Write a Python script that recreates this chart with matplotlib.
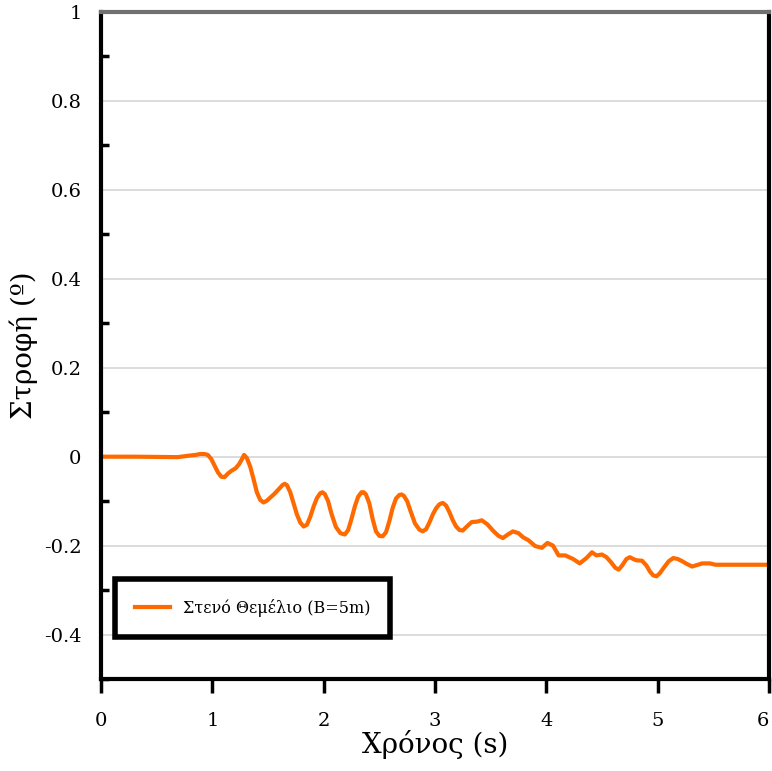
import matplotlib.pyplot as plt
from matplotlib.ticker import MultipleLocator

# time (s) and rotation (deg)
t = [0.0, 0.3, 0.69, 0.78, 0.85, 0.89, 0.93, 0.96, 0.99, 1.02, 1.05, 1.08, 1.11,
     1.14, 1.17, 1.19, 1.21, 1.24, 1.265, 1.285, 1.31, 1.34, 1.37, 1.40, 1.43,
     1.46, 1.49, 1.52, 1.56, 1.60, 1.63, 1.65, 1.67, 1.70, 1.73, 1.76, 1.79,
     1.82, 1.85, 1.88, 1.91, 1.94, 1.97, 1.99, 2.01, 2.04, 2.07, 2.11, 2.15,
     2.19, 2.22, 2.25, 2.28, 2.31, 2.34, 2.36, 2.38, 2.41, 2.44, 2.47, 2.50,
     2.53, 2.56, 2.59, 2.62, 2.65, 2.68, 2.70, 2.72, 2.75, 2.78, 2.82, 2.86,
     2.89, 2.92, 2.95, 2.98, 3.01, 3.04, 3.07, 3.10, 3.13, 3.16, 3.19, 3.22,
     3.25, 3.29, 3.33, 3.38, 3.42, 3.47, 3.52, 3.57, 3.61, 3.66, 3.70, 3.75,
     3.79, 3.84, 3.90, 3.96, 4.01, 4.06, 4.11, 4.17, 4.24, 4.30, 4.36, 4.41,
     4.45, 4.50, 4.54, 4.58, 4.62, 4.65, 4.68, 4.72, 4.75, 4.78, 4.81, 4.86,
     4.90, 4.93, 4.96, 4.99, 5.02, 5.06, 5.10, 5.14, 5.18, 5.22, 5.26, 5.31,
     5.35, 5.40, 5.47, 5.52, 5.70, 6.0]
rot = [0.0, 0.0, -0.001, 0.002, 0.004, 0.006, 0.006, 0.004, -0.005, -0.02, -0.035, -0.045, -0.046,
       -0.038, -0.032, -0.029, -0.026, -0.017, -0.006, 0.004, -0.003, -0.022, -0.050, -0.080, -0.097,
       -0.103, -0.099, -0.092, -0.083, -0.072, -0.064, -0.061, -0.064, -0.080, -0.105, -0.130, -0.148,
       -0.157, -0.153, -0.135, -0.112, -0.093, -0.082, -0.080, -0.084, -0.100, -0.128, -0.158, -0.172,
       -0.175, -0.165, -0.140, -0.112, -0.090, -0.080, -0.080, -0.085, -0.105, -0.140, -0.168, -0.178,
       -0.179, -0.170, -0.145, -0.115, -0.094, -0.086, -0.085, -0.088, -0.100, -0.122, -0.150, -0.164,
       -0.168, -0.163, -0.148, -0.130, -0.116, -0.107, -0.104, -0.110, -0.125, -0.143, -0.157, -0.165,
       -0.166, -0.156, -0.147, -0.146, -0.143, -0.152, -0.166, -0.178, -0.183, -0.174, -0.168, -0.172,
       -0.181, -0.188, -0.201, -0.205, -0.194, -0.200, -0.222, -0.222, -0.230, -0.240, -0.228, -0.215,
       -0.222, -0.220, -0.226, -0.237, -0.250, -0.254, -0.245, -0.230, -0.226, -0.230, -0.233, -0.234,
       -0.245, -0.258, -0.267, -0.269, -0.262, -0.248, -0.235, -0.228, -0.230, -0.235, -0.241, -0.247,
       -0.244, -0.240, -0.240, -0.243, -0.243, -0.243]

plt.rcParams['font.family'] = ['DejaVu Serif']

fig = plt.figure(figsize=(7.72, 7.71), dpi=100)
ax = fig.add_axes([0.1308, 0.1193, 0.8653, 0.8651])

ax.plot(t, rot, color='#ff6a00', lw=3, label='Στενό Θεμέλιο (Β=5m)')

ax.set_xlim(0, 6)
ax.set_ylim(-0.5, 1)
ax.xaxis.set_major_locator(MultipleLocator(1))
ax.yaxis.set_minor_locator(MultipleLocator(0.1))
ax.set_yticks([-0.4, -0.2, 0, 0.2, 0.4, 0.6, 0.8, 1])
ax.set_yticklabels(['-0.4', '-0.2', '0', '0.2', '0.4', '0.6', '0.8', '1'])
ax.grid(axis='y', which='major', color='#d9d9d9', lw=1.3)

ax.tick_params(axis='x', direction='out', length=10, width=2.5, pad=14, labelsize=14)
ax.tick_params(axis='y', which='major', length=0, pad=14, labelsize=14)
ax.tick_params(axis='y', which='minor', direction='in', length=6, width=2.5)
for lab in ax.get_xticklabels():
    if lab.get_text() == '6':
        lab.set_horizontalalignment('right')

for s in ['left', 'bottom', 'right']:
    ax.spines[s].set_linewidth(3)
    ax.spines[s].set_color('black')
ax.spines['top'].set_linewidth(3)
ax.spines['top'].set_color('#707070')

ax.set_xlabel('Χρόνος (s)', fontsize=20, labelpad=0)
ax.set_ylabel('Στροφή (º)', fontsize=20, labelpad=4)

leg = ax.legend(loc='lower left', bbox_to_anchor=(0.021, 0.063), fontsize=11.5,
                fancybox=False, framealpha=1, borderpad=1.25, handlelength=2.2,
                borderaxespad=0)
leg.get_frame().set_edgecolor('black')
leg.get_frame().set_linewidth(4)

fig.savefig('out.png', dpi=100)
